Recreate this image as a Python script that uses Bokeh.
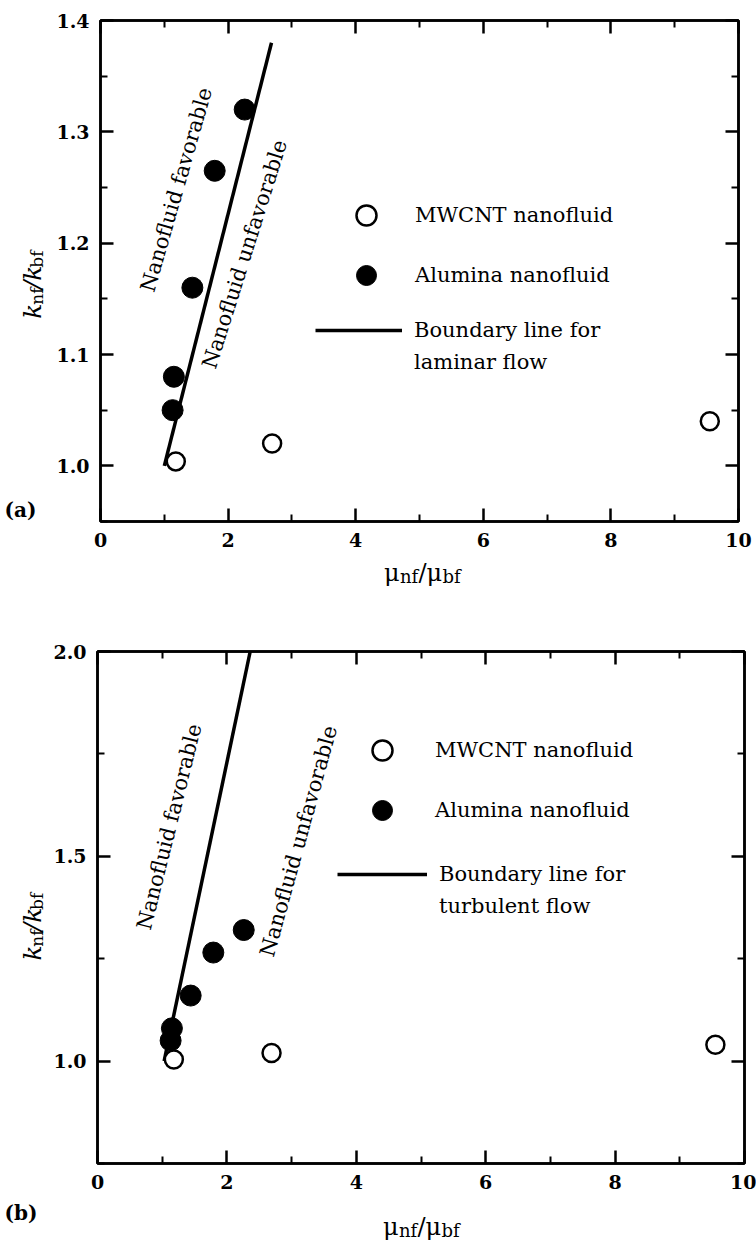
from bokeh.plotting import figure
from bokeh.models import (Range1d, LinearAxis, FixedTicker, Label, Legend, LegendItem,
                          NumeralTickFormatter, CustomJSTickFormatter)
from bokeh.layouts import column, row
from bokeh.embed import file_html
from bokeh.resources import INLINE

# ---------------- data ----------------
mwcnt_mu = [1.18, 2.69, 9.55]
mwcnt_k = [1.004, 1.02, 1.04]
alumina_mu = [1.13, 1.15, 1.44, 1.79, 2.26]
alumina_k = [1.05, 1.08, 1.16, 1.265, 1.32]
laminar_mu = [1.0, 2.68]
laminar_k = [1.0, 1.38]
turbulent_mu = [1.03, 2.36]
turbulent_k = [1.0, 2.0]

x_ticks = [0, 2, 4, 6, 8, 10]
x_minor = [1, 3, 5, 7, 9]
ya_ticks = [1.0, 1.1, 1.2, 1.3, 1.4]
ya_minor = [0.95, 1.05, 1.15, 1.25, 1.35]
yb_ticks = [1.0, 1.5, 2.0]
yb_minor = [0.75, 1.25, 1.75]

legend_labels = ["MWCNT nanofluid", "Alumina nanofluid"]
zone_labels = ["Nanofluid favorable", "Nanofluid unfavorable"]

SERIF = "DejaVu Serif"
# approximate advance widths (em) for hand-built subscripted labels
EM = {"μ": 0.66, "n": 0.65, "f": 0.38, "/": 0.34, "b": 0.65, "k": 0.62}


def word_width(s, size):
    return sum(EM.get(c, 0.6) for c in s) * size


def style_axis(ax, labels=True):
    ax.axis_line_width = 2.5
    ax.axis_line_color = "black"
    ax.major_tick_in = 13
    ax.major_tick_out = 0
    ax.minor_tick_in = 7
    ax.minor_tick_out = 0
    ax.major_tick_line_width = 2.5
    ax.minor_tick_line_width = 2
    ax.major_tick_line_color = "black"
    ax.minor_tick_line_color = "black"
    if labels:
        ax.major_label_text_font = SERIF
        ax.major_label_text_font_style = "bold"
        ax.major_label_text_font_size = "19px"
        ax.major_label_text_color = "black"
        ax.major_label_standoff = 11
    else:
        ax.formatter = CustomJSTickFormatter(code="return ''")
        ax.major_label_text_font_size = "0px"
        ax.major_label_standoff = 0


def add_label(p, x, y, text, size, style="normal", angle=0, align="left",
              baseline="alphabetic"):
    p.add_layout(Label(x=x, y=y, text=text,
                       text_font=SERIF, text_font_size=f"{size}px",
                       text_font_style=style, text_color="black",
                       angle=angle, angle_units="deg",
                       text_align=align, text_baseline=baseline))


def strip(width, height):
    """A blank figure whose frame is the whole canvas (1 unit = 1 px)."""
    s = figure(width=width, height=height, output_backend="svg", toolbar_location=None,
               x_range=Range1d(0, width), y_range=Range1d(0, height),
               x_axis_type=None, y_axis_type=None,
               min_border=0, min_border_left=0, min_border_right=0,
               min_border_top=0, min_border_bottom=0,
               background_fill_color="white", border_fill_color="white")
    s.outline_line_color = None
    s.xgrid.visible = False
    s.ygrid.visible = False
    return s


def x_axis_label(p, cx, by):
    parts = [("μ", 24, 0), ("nf", 18, -4), ("/μ", 24, 0), ("bf", 18, -4)]
    total = sum(word_width(t, s) for t, s, _ in parts)
    x = cx - total / 2
    for t, s, dy in parts:
        add_label(p, x, by + dy, t, s)
        x += word_width(t, s)


def y_axis_label(p, bx, cy):
    parts = [("k", 25, 0, "italic"), ("nf", 17, 4, "normal"),
             ("/k", 25, 0, "italic"), ("bf", 17, 4, "normal")]
    total = sum(word_width(t, s) for t, s, _, _ in parts)
    y = cy - total / 2
    for t, s, dx, st in parts:
        add_label(p, bx + dx, y, t, s, style=st, angle=90)
        y += word_width(t, s)


def make_panel(height, borders, y_range, y_ticks, y_minor, line_mu, line_k,
               flow, zone_pos, legA_loc, legA_standoff, legB_loc, legB_width):
    top, right, bottom, left = borders
    p = figure(width=706, height=height, output_backend="svg", toolbar_location=None,
               x_range=Range1d(0, 10), y_range=Range1d(*y_range),
               min_border_top=top, min_border_right=right,
               min_border_bottom=bottom, min_border_left=left,
               background_fill_color="white", border_fill_color="white")
    p.xgrid.visible = False
    p.ygrid.visible = False
    p.outline_line_color = "black"
    p.outline_line_width = 2.5

    xt = FixedTicker(ticks=x_ticks, minor_ticks=x_minor)
    yt = FixedTicker(ticks=y_ticks, minor_ticks=y_minor)
    p.xaxis.ticker = xt
    p.yaxis.ticker = yt
    p.yaxis.formatter = NumeralTickFormatter(format="0.0")
    style_axis(p.xaxis[0])
    style_axis(p.yaxis[0])
    p.add_layout(LinearAxis(ticker=xt), "above")
    p.add_layout(LinearAxis(ticker=yt), "right")
    style_axis(p.above[0], labels=False)
    style_axis(p.right[0], labels=False)

    r_line = p.line(line_mu, line_k, line_width=3.5, line_color="black")
    r_fill = p.scatter(alumina_mu, alumina_k, marker="circle", size=21,
                       fill_color="black", line_color="black", line_width=1)
    r_open = p.scatter(mwcnt_mu, mwcnt_k, marker="circle", size=18,
                       fill_color="white", line_color="black", line_width=2.5)
    r_blank = p.line(x=[], y=[], line_alpha=0)

    # zone labels (rotated along the boundary)
    for text, (zx, zy, ang) in zip(zone_labels, zone_pos):
        add_label(p, zx, zy, text, 21, angle=ang, align="center", baseline="middle")

    legA = Legend(items=[LegendItem(label=legend_labels[0], renderers=[r_open]),
                         LegendItem(label=legend_labels[1], renderers=[r_fill])],
                  location=legA_loc, glyph_width=50, glyph_height=50, spacing=10,
                  label_standoff=legA_standoff, padding=0, margin=0,
                  border_line_alpha=0, background_fill_alpha=0,
                  label_text_font=SERIF, label_text_font_size="21px",
                  label_text_color="black")
    legB = Legend(items=[LegendItem(label="Boundary line for", renderers=[r_line]),
                         LegendItem(label=f"{flow} flow", renderers=[r_blank])],
                  location=legB_loc, glyph_width=legB_width, glyph_height=26,
                  label_height=26, spacing=6, label_standoff=12, padding=0, margin=0,
                  border_line_alpha=0, background_fill_alpha=0,
                  label_text_font=SERIF, label_text_font_size="21px",
                  label_text_color="black")
    p.add_layout(legA)
    p.add_layout(legB)
    return p


# ---------------- panel (a) ----------------
pa = make_panel(560, (20, 18, 39, 50), (0.95, 1.4), ya_ticks, ya_minor,
                laminar_mu, laminar_k, "laminar",
                [(1.19, 1.248, 74), (2.26, 1.19, 72.5)],
                (241, 221), 24, (215, 146), 87)
ya = strip(50, 560)
y_axis_label(ya, 32, 264)
add_label(ya, 4, 13, "(a)", 20, style="bold", baseline="middle")
xa = strip(756, 60)
x_axis_label(xa, 422, 48)

# ---------------- panel (b) ----------------
pb = make_panel(577, (31, 12, 34, 45), (0.75, 2.0), yb_ticks, yb_minor,
                turbulent_mu, turbulent_k, "turbulent",
                [(1.11, 1.572, 76), (3.11, 1.537, 74.5)],
                (260, 328), 28, (240, 244), 90)
yb = strip(50, 577)
y_axis_label(yb, 32, 266)
xb = strip(756, 47)
add_label(xb, 4, 32, "(b)", 20, style="bold", baseline="middle")
x_axis_label(xb, 421, 18)

layout = column(row(ya, pa, spacing=0), xa, row(yb, pb, spacing=0), xb, spacing=0)
open("out.html", "w").write(file_html(layout, INLINE))
